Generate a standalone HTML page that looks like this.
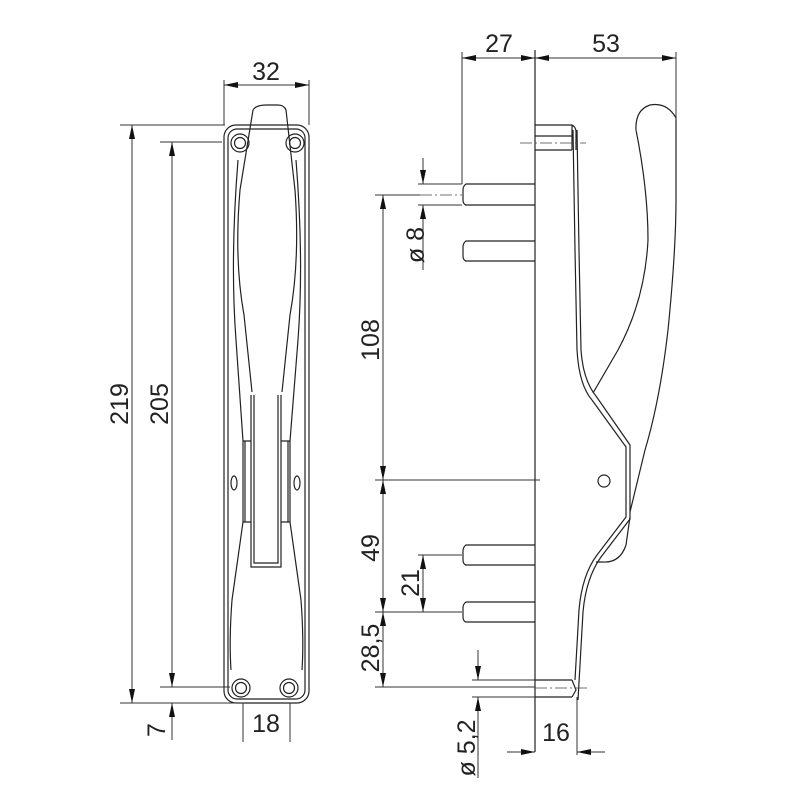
<!DOCTYPE html>
<html><head><meta charset="utf-8"><style>
html,body{margin:0;padding:0;background:#fff;}
svg{display:block;}
text{font-family:"Liberation Sans",sans-serif;font-size:25px;fill:#222;}
</style></head><body>
<svg width="800" height="800" viewBox="0 0 800 800" xmlns="http://www.w3.org/2000/svg">
<defs>
<marker id="a" viewBox="0 0 14 6" refX="14" refY="3" markerWidth="14" markerHeight="6" orient="auto-start-reverse" markerUnits="userSpaceOnUse"><path d="M0,0L14,3L0,6z" fill="#111"/></marker>
</defs>
<g fill="none" stroke="#222" stroke-width="1.2">
<!-- FRONT VIEW -->
<rect x="224" y="125" width="85" height="578" rx="12"/>
<rect x="228" y="129" width="77" height="570" rx="9"/>
<!-- top holes -->
<circle cx="240" cy="143" r="9"/><circle cx="240" cy="143" r="5.5"/>
<circle cx="295" cy="143" r="9"/><circle cx="295" cy="143" r="5.5"/>
<!-- bottom holes -->
<circle cx="241" cy="688" r="9"/><circle cx="241" cy="688" r="5.5"/>
<circle cx="289" cy="688" r="9"/><circle cx="289" cy="688" r="5.5"/>
<!-- grip -->
<path d="M253,110 Q256,105 266,105 L278,105 Q284,105 286,110 L295,190 Q300,260 290,315 L282,392"/>
<path d="M253,110 L240,190 Q234,260 244,315 L252,392"/>
<path d="M251,395 L251,567 L281,567 L281,395"/>
<path d="M254,395 L254,563 L278,563 L278,395"/>
<!-- body contours -->
<path d="M238,160 Q230,260 236,340 L243,441 L243,522 L232,600 Q229,640 231,670"/>
<path d="M296,160 Q304,260 298,340 L290,441 L290,522 L301,600 Q304,640 302,670"/>
<path d="M245,441 L245,522 M288,441 L288,522 M243,441 L251,441 M243,522 L251,522 M281,441 L290,441 M281,522 L290,522"/>
<ellipse cx="234" cy="483" rx="3" ry="7"/><ellipse cx="297" cy="483" rx="3" ry="7"/>
</g>
<!-- front dims -->
<g stroke="#333" stroke-width="1" fill="none">
<line x1="224" y1="80" x2="224" y2="125"/><line x1="309" y1="80" x2="309" y2="125"/>
<line x1="224" y1="85" x2="309" y2="85" marker-start="url(#a)" marker-end="url(#a)"/>
<line x1="120" y1="125" x2="225" y2="125"/><line x1="160" y1="142" x2="222" y2="142"/>
<line x1="160" y1="687" x2="230" y2="687"/><line x1="120" y1="703" x2="245" y2="703"/>
<line x1="132" y1="125" x2="132" y2="703" marker-start="url(#a)" marker-end="url(#a)"/>
<line x1="172" y1="142" x2="172" y2="687" marker-start="url(#a)" marker-end="url(#a)"/>
<line x1="172" y1="740" x2="172" y2="703" marker-end="url(#a)"/>
<line x1="243" y1="703" x2="243" y2="742"/><line x1="290" y1="703" x2="290" y2="742"/>
</g>
<text x="266" y="80" text-anchor="middle">32</text>
<text transform="translate(128,404) rotate(-90)" text-anchor="middle">219</text>
<text transform="translate(168,404) rotate(-90)" text-anchor="middle">205</text>
<text transform="translate(165,730) rotate(-90)" text-anchor="middle">7</text>
<text x="266" y="732" text-anchor="middle">18</text>

<!-- SIDE VIEW -->
<g fill="none" stroke="#222" stroke-width="1.2">
<line x1="535" y1="50" x2="535" y2="752"/>
<!-- pins -->
<path d="M535,184 L466,184 Q463,186 463,190 L463,200 Q463,204 466,205 L535,205"/>
<path d="M535,241 L466,241 Q463,243 463,247 L463,256 Q463,260 466,261 L535,261"/>
<path d="M535,545 L466,545 Q463,547 463,551 L463,560 Q463,564 466,565 L535,565"/>
<path d="M535,602 L466,602 Q463,604 463,608 L463,617 Q463,621 466,622 L535,622"/>
<!-- top cap -->
<path d="M535,125 L572,125 Q576,127 576,132 L576,150 M535,150 L572,150 M535,136 L572,136 M572,125 L572,150"/>
<!-- bottom screw -->
<path d="M535,680 L572,680 M535,697 L572,697 M572,680 L576,690 L572,697"/>
<!-- base profile -->
<path d="M573,130 L575,250 L577,350 Q579,385 592,400 L626,447 L626,517 L597,555 Q582,575 579,610 L575,680"/>
<path d="M577,130 L579,250 L581,350 Q583,380 596,396 L630,445 L630,519 L601,557 Q586,578 583,612 L578,700"/>
<!-- lever -->
<path d="M636,130 Q635,110 650,105 Q667,102 676,118 L676,200 Q676,250 668,330 Q660,400 645,450 L630,512"/>
<path d="M636,130 Q648,190 648,240 Q645,300 618,350 L593,393"/>
<path d="M630,517 L626,545 Q620,563 603,562 L596,562"/>
<circle cx="604" cy="481" r="6"/>
</g>
<!-- center lines -->
<g stroke="#444" stroke-width="0.8" fill="none" stroke-dasharray="12,3,2,3">
<line x1="520" y1="143" x2="586" y2="143"/>
<line x1="420" y1="195" x2="462" y2="195"/>
<line x1="535" y1="688" x2="590" y2="688"/>
</g>
<!-- side dims -->
<g stroke="#333" stroke-width="1" fill="none">
<line x1="462" y1="52" x2="462" y2="184"/><line x1="676" y1="52" x2="676" y2="120"/>
<line x1="462" y1="58" x2="535" y2="58" marker-start="url(#a)" marker-end="url(#a)"/>
<line x1="535" y1="58" x2="676" y2="58" marker-start="url(#a)" marker-end="url(#a)"/>
<line x1="375" y1="195" x2="420" y2="195"/>
<line x1="375" y1="480" x2="540" y2="480"/>
<line x1="375" y1="612" x2="462" y2="612"/>
<line x1="375" y1="687" x2="535" y2="687"/>
<line x1="383" y1="195" x2="383" y2="480" marker-start="url(#a)" marker-end="url(#a)"/>
<line x1="383" y1="480" x2="383" y2="612" marker-start="url(#a)" marker-end="url(#a)"/>
<line x1="383" y1="612" x2="383" y2="687" marker-start="url(#a)" marker-end="url(#a)"/>
<line x1="418" y1="555" x2="462" y2="555"/>
<line x1="423" y1="555" x2="423" y2="612" marker-start="url(#a)" marker-end="url(#a)"/>
<line x1="418" y1="184" x2="462" y2="184"/><line x1="418" y1="205" x2="462" y2="205"/>
<line x1="423" y1="158" x2="423" y2="184" marker-end="url(#a)"/>
<line x1="423" y1="270" x2="423" y2="205" marker-end="url(#a)"/>
<line x1="472" y1="680" x2="535" y2="680"/><line x1="472" y1="697" x2="535" y2="697"/>
<line x1="478" y1="650" x2="478" y2="680" marker-end="url(#a)"/>
<line x1="478" y1="778" x2="478" y2="697" marker-end="url(#a)"/>
<line x1="577" y1="697" x2="577" y2="755"/>
<line x1="507" y1="752" x2="535" y2="752" marker-end="url(#a)"/>
<line x1="605" y1="752" x2="577" y2="752" marker-end="url(#a)"/>
</g>
<text x="499" y="52" text-anchor="middle">27</text>
<text x="606" y="52" text-anchor="middle">53</text>
<text transform="translate(424,245) rotate(-90)" text-anchor="middle">ø 8</text>
<text transform="translate(379,340) rotate(-90)" text-anchor="middle">108</text>
<text transform="translate(379,548) rotate(-90)" text-anchor="middle">49</text>
<text transform="translate(419,583) rotate(-90)" text-anchor="middle">21</text>
<text transform="translate(379,648) rotate(-90)" text-anchor="middle">28,5</text>
<text transform="translate(475,748) rotate(-90)" text-anchor="middle">ø 5,2</text>
<text x="556" y="741" text-anchor="middle">16</text>
</svg>
</body></html>
